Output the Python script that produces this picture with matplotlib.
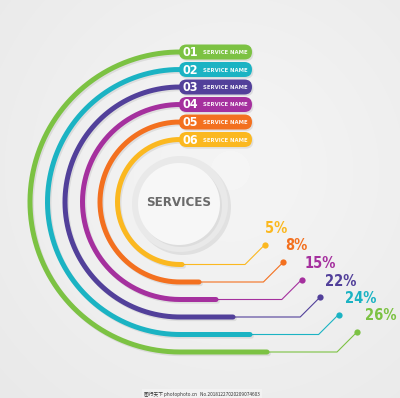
import numpy as np
import matplotlib
matplotlib.use("Agg")
import matplotlib.pyplot as plt
import matplotlib.patheffects as pe
from matplotlib.patches import FancyBboxPatch, Circle

numbers = ["01", "02", "03", "04", "05", "06"]
names = ["SERVICE NAME"] * 6
percents = [26, 24, 22, 15, 8, 5]
colors = ["#7cc243", "#1bb3c3", "#52409a", "#a5309e", "#f3701f", "#fbb820"]
center_label = "SERVICES"
watermark = "图行天下 photophoto.cn   No.20181227020209074603"

narrow = dict(family="DejaVu Sans", fontstretch="condensed", fontweight="bold")

fig = plt.figure(figsize=(4, 3.98), dpi=100)
ax = fig.add_axes([0, 0, 1, 1])
ax.set_xlim(0, 400)
ax.set_ylim(398, 0)
ax.axis("off")

# soft grey background, lighter towards the middle
yy, xx = np.mgrid[0:398, 0:400]
d = np.hypot(xx - 230, yy - 170) / 330
bg = np.clip(0.96 - 0.05 * d, 0, 1)
ax.imshow(bg, cmap="gray", vmin=0, vmax=1, extent=(0, 400, 398, 0), zorder=0, aspect="auto")

cx, cy = 180, 202
shadow = [pe.SimpleLineShadow(offset=(1.0, -1.2), alpha=0.08, shadow_color="k"), pe.Normal()]

for i, (num, name, pct, col) in enumerate(zip(numbers, names, percents, colors)):
    r = 150 - 17.5 * i
    t = np.linspace(0, np.pi, 240)
    arc_x = cx - r * np.sin(t)
    arc_y = cy - r * np.cos(t)
    tail_end = 267 - 17 * i
    xs = np.concatenate([[190], arc_x, [tail_end]])
    ys = np.concatenate([[cy - r], arc_y, [cy + r]])
    ax.plot(xs, ys, color=col, lw=3.6, solid_capstyle="round", path_effects=shadow, zorder=2)

    # thin leader line to the percentage
    dot_x = 357 - 18.4 * i
    dot_y = cy + r - 20
    ax.plot([tail_end, dot_x - 20, dot_x], [cy + r, cy + r, dot_y], color=col, lw=0.8, zorder=1)
    ax.plot(dot_x, dot_y, "o", ms=4.5, color=col, mec="none", zorder=3)
    ax.text(dot_x + 1.5 * (5 - i), dot_y - 16, f"{pct}%", ha="left", va="center",
            fontsize=10.5, color=col, **narrow)

    # tab at the top of each arc
    tab = FancyBboxPatch((179, cy - r - 7.5), 73, 15, boxstyle="round,pad=0,rounding_size=7.5",
                         fc=col, ec="none", zorder=4,
                         path_effects=[pe.SimplePatchShadow(offset=(1, -1.2), alpha=0.1), pe.Normal()])
    ax.add_patch(tab)
    ax.text(190.5, cy - r + 0.5, num, ha="center", va="center", fontsize=9,
            color="white", zorder=5, **narrow)
    ax.text(203, cy - r + 0.5, name, ha="left", va="center", fontsize=4.2,
            color="white", alpha=0.92, zorder=5, **narrow)

# centre disc
ax.add_patch(Circle((183, 207), 48, fc="#000000", alpha=0.07, ec="none", zorder=5))
ax.add_patch(Circle((180, 204), 48, fc="#e9e9e9", ec="none", zorder=5))
ax.add_patch(Circle((181, 206), 41, fc="#d6d6d6", alpha=0.6, ec="none", zorder=5))
ax.add_patch(Circle((179, 204), 41, fc="#f7f7f7", ec="none", zorder=5))
ax.text(179, 203, center_label, ha="center", va="center", fontsize=9.5,
        color="#6a6a6a", zorder=6, **narrow)

ax.text(202, 394, watermark, ha="center", va="center", fontsize=3.4, color="#333333",
        family=["Noto Sans CJK SC", "DejaVu Sans"], zorder=7,
        bbox=dict(boxstyle="square,pad=0.4", fc="#f2f2f2", ec="none"))

fig.savefig("out.png", dpi=100)
